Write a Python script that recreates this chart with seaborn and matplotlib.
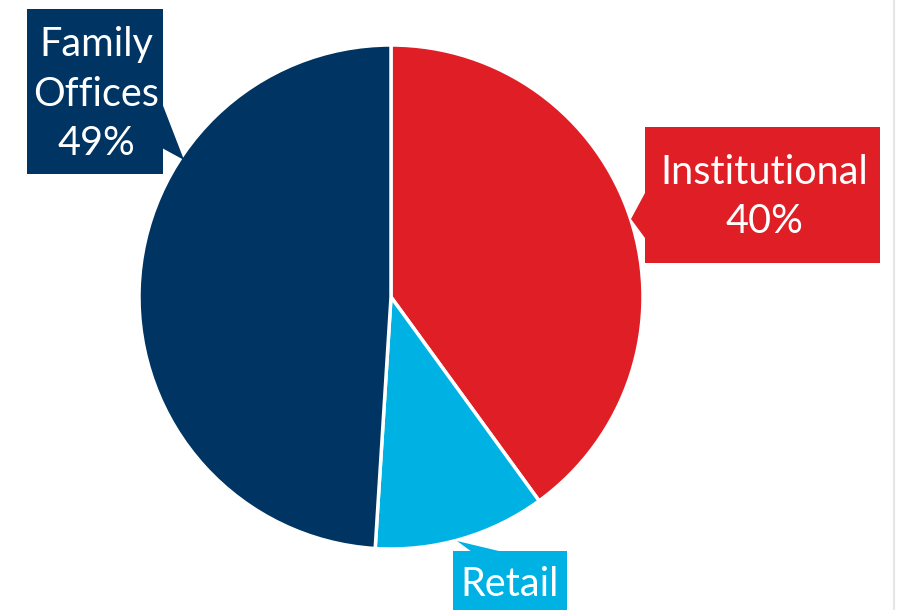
import seaborn as sns
import matplotlib.pyplot as plt
from matplotlib.patches import Rectangle, Polygon
from matplotlib.lines import Line2D

# данные
labels = ['Institutional', 'Retail', 'Family\nOffices']
shares = [40, 11, 49]
colors = ['#E01E25', '#00B2E3', '#003462']

sns.set_theme(style='white')
plt.rcParams['font.family'] = ['Lato', 'DejaVu Sans']

W, H = 897, 610
fig = plt.figure(figsize=(W / 100, H / 100), dpi=100)
ax = fig.add_axes([0, 0, 1, 1])

# пирог: центр и радиус в пикселях
cx, cy, r = 391, H - 297, 252
ax.pie(shares, colors=colors, startangle=90, counterclock=False,
       center=(cx, cy), radius=r, frame=True,
       wedgeprops=dict(edgecolor='white', linewidth=2.5))

# подписи в прямоугольниках со стрелками
# (x0, y_top, x1, y_bottom, треугольник, центр текста)
boxes = [
    (645, 127, 880, 263, [(645, 193), (645, 238), (631, 219)], (764, 197)),
    (453, 551, 567, 680, [(457, 541), (472, 552), (503, 552)], (510, 585)),
    (27, 9, 163, 174, [(162, 103), (162, 148), (184, 160)], (96, 94)),
]

for (x0, y0, x1, y1, tri, (tx, ty)), lab, val, col in zip(boxes, labels, shares, colors):
    ax.add_patch(Rectangle((x0, H - y1), x1 - x0, y1 - y0, facecolor=col, edgecolor='none', zorder=3))
    ax.add_patch(Polygon([(px, H - py) for px, py in tri], closed=True, facecolor=col, edgecolor='none', zorder=3))
    # у Retail процент уходит за нижний край, видна только подпись
    txt = lab if lab == 'Retail' else f'{lab}\n{val}%'
    ax.text(tx, H - ty, txt, ha='center', va='center', color='white',
            fontsize=28.5, linespacing=1.42, zorder=4)

ax.set_xlim(0, W)
ax.set_ylim(0, H)
ax.set_aspect('equal')
ax.axis('off')

fig.add_artist(Line2D([894 / W, 894 / W], [0, 1], color='#e6e6e6', linewidth=1.5))

fig.savefig('out.png', dpi=100)
